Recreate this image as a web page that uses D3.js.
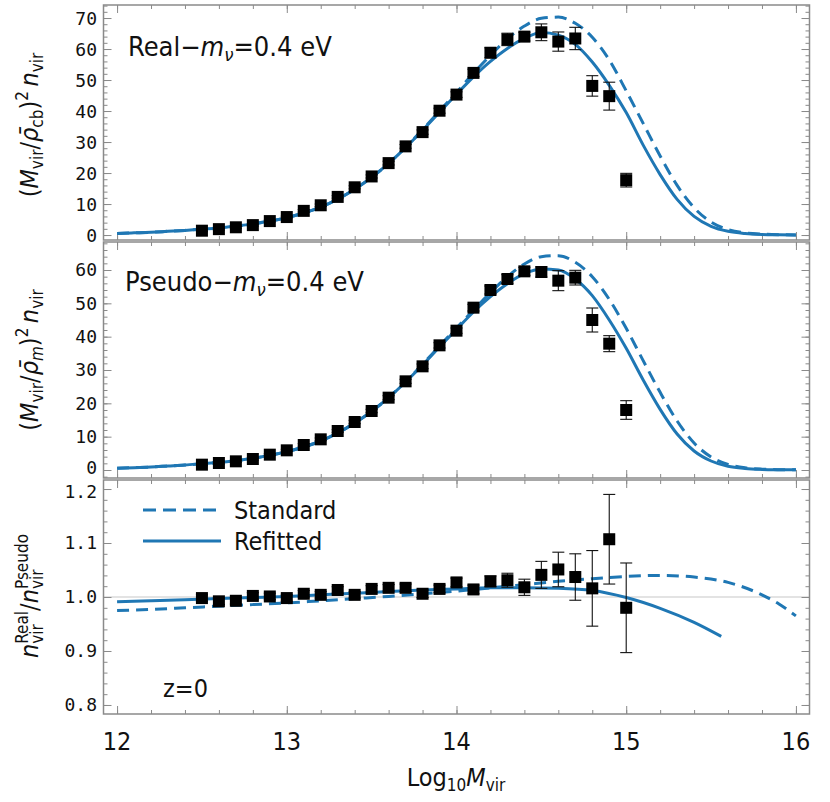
<!DOCTYPE html>
<html><head><meta charset="utf-8">
<script src="https://cdn.jsdelivr.net/npm/d3@7"></script>
<style>
body{margin:0;background:#fff}
svg{display:block}
.lbl{font-family:"Liberation Sans Narrow","DejaVu Sans Condensed","Roboto Condensed",sans-serif;fill:#111}
.ytk{font-family:"DejaVu Sans Mono","Liberation Mono",monospace;fill:#111}
</style>
</head><body>
<svg id="chart" width="830" height="802"></svg>
<script>
// ---------------- data ----------------
const massBins = [12.5,12.6,12.7,12.8,12.9,13.0,13.1,13.2,13.3,13.4,13.5,13.6,13.7,13.8,13.9,14.0,14.1,14.2,14.3,14.4,14.5,14.6,14.7,14.8,14.9,15.0];
const realValues = [1.4,1.9,2.5,3.2,4.5,5.8,7.8,9.6,12.3,15.4,18.9,23.2,28.6,33.2,40.1,45.3,52.3,58.8,63.1,64.0,65.4,62.4,63.4,48.1,44.8,17.7];
const realErrors = [0.3,0.3,0.3,0.3,0.3,0.3,0.4,0.4,0.4,0.5,0.5,0.6,0.6,0.7,0.8,0.9,1.2,1.6,2.0,1.4,2.7,3.1,3.6,3.3,4.5,2.2];
const pseudoValues = [1.6,2.1,2.6,3.3,4.6,5.9,7.5,9.2,11.7,14.4,17.7,21.7,26.6,31.1,37.4,41.8,48.7,54.0,57.3,59.6,59.4,56.8,57.7,45.0,37.9,18.0];
const pseudoErrors = [0.3,0.3,0.3,0.3,0.3,0.3,0.4,0.4,0.4,0.5,0.5,0.6,0.6,0.7,0.8,0.8,1.0,1.2,1.3,1.2,1.5,3.0,2.2,3.6,2.4,2.8];
const ratioValues = [0.998,0.992,0.993,1.002,1.001,0.998,1.006,1.004,1.013,1.004,1.015,1.017,1.017,1.006,1.015,1.027,1.014,1.029,1.031,1.018,1.041,1.051,1.037,1.016,1.107,0.980];
const ratioErrors = [0.006,0.006,0.006,0.006,0.006,0.006,0.006,0.006,0.006,0.006,0.006,0.006,0.007,0.007,0.007,0.008,0.008,0.010,0.013,0.015,0.025,0.032,0.043,0.070,0.083,0.083];

const curveMass = [12.0,12.1,12.2,12.3,12.4,12.5,12.6,12.7,12.8,12.9,13.0,13.1,13.2,13.3,13.4,13.5,13.6,13.7,13.8,13.9,14.0,14.1,14.2,14.3,14.4,14.5,14.6,14.7,14.8,14.9,15.0,15.1,15.2,15.3,15.4,15.5,15.6,15.7,15.8,15.9,16.0];
const realRefitted = [0.5,0.7,0.9,1.2,1.5,1.9,2.3,2.9,3.6,4.5,5.6,7.1,9.0,11.6,14.8,18.6,23.1,28.2,33.8,39.6,45.4,51.0,56.0,60.2,63.4,65.3,64.5,61.5,55.8,48.3,39.5,29.0,19.5,11.5,6.0,2.8,1.2,0.5,0.2,0.1,0.05];
const realStandard = [0.5,0.7,0.9,1.2,1.5,1.9,2.3,2.9,3.6,4.5,5.6,7.1,9.0,11.6,14.8,18.6,23.1,28.3,34.0,40.0,46.0,52.2,58.0,63.3,67.4,69.9,70.3,68.3,63.8,56.5,46.5,36.0,25.5,16.0,8.8,4.2,1.8,0.7,0.3,0.12,0.05];
const pseudoRefitted = [0.5,0.7,0.9,1.2,1.5,1.9,2.3,2.8,3.5,4.4,5.5,6.9,8.7,11.1,14.1,17.6,21.7,26.4,31.5,36.9,42.2,47.4,52.0,55.9,58.9,60.3,60.0,57.3,52.3,45.0,36.5,27.0,18.2,10.8,5.7,2.7,1.1,0.45,0.18,0.08,0.04];
const pseudoStandard = [0.5,0.7,0.9,1.2,1.5,1.9,2.3,2.8,3.5,4.4,5.5,6.9,8.7,11.1,14.1,17.6,21.7,26.5,31.7,37.2,42.6,48.0,53.2,58.0,61.8,64.0,64.3,62.3,58.0,51.2,42.5,32.8,23.3,14.7,8.1,3.9,1.7,0.65,0.26,0.1,0.04];

const ratioStdMass = [12.0,12.2,12.4,12.6,12.8,13.0,13.2,13.4,13.6,13.8,14.0,14.2,14.4,14.6,14.8,15.0,15.2,15.4,15.6,15.8,15.9,16.0];
const ratioStandard = [0.975,0.977,0.980,0.983,0.986,0.989,0.993,0.997,1.001,1.006,1.011,1.017,1.023,1.029,1.034,1.038,1.040,1.037,1.027,1.004,0.987,0.965];
const ratioFitMass = [12.0,12.2,12.4,12.6,12.8,13.0,13.2,13.4,13.6,13.8,14.0,14.2,14.4,14.6,14.8,15.0,15.2,15.4,15.56];
const ratioRefitted = [0.991,0.993,0.995,0.997,0.999,1.001,1.004,1.007,1.010,1.013,1.015,1.017,1.017,1.016,1.012,0.999,0.979,0.953,0.927];

const xTicks = [12,13,14,15,16];
const yTicks1 = [0,10,20,30,40,50,60,70];
const yTicks2 = [0,10,20,30,40,50,60];
const yTicks3 = [0.8,0.9,1.0,1.1,1.2];

// ---------------- drawing ----------------
const svg = d3.select("#chart");
const BLUE = "#1f77b4";
const FRAME = "#8a8a8a";
const X0 = 103.5, X1 = 809.5;
const x = d3.scaleLinear().domain([11.92, 16.08]).range([X0, X1]);

const panels = [
  {top:5, bottom:240, domain:[-1.6,74.2], ticks:yTicks1, minor:2, fmt:d3.format("d"), nudgeLow:0, nudgeHigh:0,
   pts:realValues, err:realErrors,
   curves:[{m:curveMass, v:realStandard, dash:true},{m:curveMass, v:realRefitted, dash:false}]},
  {top:242, bottom:478, domain:[-2.4,68.4], ticks:yTicks2, minor:2, fmt:d3.format("d"), nudgeLow:-2, nudgeHigh:0,
   pts:pseudoValues, err:pseudoErrors,
   curves:[{m:curveMass, v:pseudoStandard, dash:true},{m:curveMass, v:pseudoRefitted, dash:false}]},
  {top:480, bottom:714, domain:[0.7833,1.2167], ticks:yTicks3, minor:0.02, fmt:d3.format(".1f"), nudgeLow:0, nudgeHigh:2.5,
   pts:ratioValues, err:ratioErrors,
   curves:[{m:ratioStdMass, v:ratioStandard, dash:true},{m:ratioFitMass, v:ratioRefitted, dash:false}]}
];

const xMinor = d3.range(12, 16.001, 0.2).map(d => +d.toFixed(2));

panels.forEach((p, i) => {
  const y = d3.scaleLinear().domain(p.domain).range([p.bottom, p.top]);
  const g = svg.append("g");
  const clipId = "clip" + i;
  svg.append("clipPath").attr("id", clipId).append("rect")
    .attr("x", X0).attr("y", p.top).attr("width", X1 - X0).attr("height", p.bottom - p.top);

  if (i === 2) {
    g.append("line").attr("x1", X0).attr("x2", X1).attr("y1", y(1)).attr("y2", y(1))
      .attr("stroke", "#c8c8c8").attr("stroke-width", 1.2);
  }

  const yMinor = d3.range(Math.ceil(p.domain[0] / p.minor) * p.minor, p.domain[1], p.minor)
    .map(d => +d.toFixed(3));

  function styleAxis(a) {
    a.select(".domain").remove();
    a.selectAll(".tick line").attr("stroke", FRAME).attr("stroke-width", 1);
  }
  g.append("g").attr("transform", `translate(0,${p.bottom})`)
    .call(d3.axisBottom(x).tickValues(xTicks).tickSize(-8).tickFormat("")).call(styleAxis);
  g.append("g").attr("transform", `translate(0,${p.bottom})`)
    .call(d3.axisBottom(x).tickValues(xMinor).tickSize(-4).tickFormat("")).call(styleAxis);
  g.append("g").attr("transform", `translate(0,${p.top})`)
    .call(d3.axisTop(x).tickValues(xTicks).tickSize(-8).tickFormat("")).call(styleAxis);
  g.append("g").attr("transform", `translate(0,${p.top})`)
    .call(d3.axisTop(x).tickValues(xMinor).tickSize(-4).tickFormat("")).call(styleAxis);
  g.append("g").attr("transform", `translate(${X0},0)`)
    .call(d3.axisLeft(y).tickValues(p.ticks).tickSize(-8).tickFormat("")).call(styleAxis);
  g.append("g").attr("transform", `translate(${X0},0)`)
    .call(d3.axisLeft(y).tickValues(yMinor).tickSize(-4).tickFormat("")).call(styleAxis);
  g.append("g").attr("transform", `translate(${X1},0)`)
    .call(d3.axisRight(y).tickValues(p.ticks).tickSize(-8).tickFormat("")).call(styleAxis);
  g.append("g").attr("transform", `translate(${X1},0)`)
    .call(d3.axisRight(y).tickValues(yMinor).tickSize(-4).tickFormat("")).call(styleAxis);

  const last = p.ticks.length - 1;
  g.selectAll("text.ytk").data(p.ticks).join("text").attr("class", "ytk")
    .attr("x", 97)
    .attr("y", (d, k) => y(d) + (k === 0 ? p.nudgeLow : 0) + (k === last ? p.nudgeHigh : 0))
    .attr("dy", "0.36em")
    .attr("text-anchor", "end").attr("font-size", 18).text(p.fmt);

  const line = d3.line().curve(d3.curveMonotoneX).x(d => x(d[0])).y(d => y(d[1]));
  p.curves.forEach(c => {
    g.append("path").attr("clip-path", `url(#${clipId})`)
      .attr("d", line(c.m.map((m, k) => [m, c.v[k]])))
      .attr("fill", "none").attr("stroke", BLUE).attr("stroke-width", 3)
      .attr("stroke-dasharray", c.dash ? "12,7" : null);
  });

  const eb = g.append("g").attr("stroke", "#111").attr("stroke-width", 1.1);
  massBins.forEach((m, k) => {
    const cx = x(m), y1 = y(p.pts[k] + p.err[k]), y2 = y(p.pts[k] - p.err[k]);
    eb.append("line").attr("x1", cx).attr("x2", cx).attr("y1", y1).attr("y2", y2);
    eb.append("line").attr("x1", cx - 6).attr("x2", cx + 6).attr("y1", y1).attr("y2", y1);
    eb.append("line").attr("x1", cx - 6).attr("x2", cx + 6).attr("y1", y2).attr("y2", y2);
  });
  g.selectAll("rect.pt").data(massBins).join("rect").attr("class", "pt")
    .attr("x", d => x(d) - 6).attr("y", (d, k) => y(p.pts[k]) - 6)
    .attr("width", 12).attr("height", 12).attr("fill", "#000");

  g.append("rect").attr("x", X0).attr("y", p.top).attr("width", X1 - X0).attr("height", p.bottom - p.top)
    .attr("fill", "none").attr("stroke", FRAME).attr("stroke-width", 1.5);
});

svg.selectAll("text.xtk").data(xTicks).join("text").attr("class", "lbl xtk")
  .attr("x", d => x(d)).attr("y", 750).attr("text-anchor", "middle").attr("font-size", 25).text(d => d);

function rich(parent, parts, size) {
  parts.forEach(pt => {
    const ts = parent.append("tspan").text(pt.t);
    let fs = size;
    if (pt.sub || pt.sup) fs = size * 0.68;
    ts.attr("font-size", fs);
    if (pt.it) ts.attr("font-style", "italic");
    if (pt.dy) ts.attr("dy", pt.dy);
    if (pt.dx) ts.attr("dx", pt.dx);
  });
}

{
  const t = svg.append("text").attr("class", "lbl").attr("x", 456).attr("y", 786).attr("text-anchor", "middle").attr("font-size", 25);
  rich(t, [{t:"Log"},{t:"10", sub:true, dy:5},{t:"M", it:true, dy:-5},{t:"vir", sub:true, dy:5}], 25);
}

function yTitle(cy, parts) {
  const t = svg.append("text").attr("class", "lbl").attr("text-anchor", "middle").attr("font-size", 25)
    .attr("transform", `translate(38,${cy}) rotate(-90)`);
  rich(t, parts, 25);
  return t;
}
yTitle(125, [{t:"("},{t:"M", it:true},{t:"vir", sub:true, dy:5},{t:"/", dy:-5},{t:"ρ\u0304", it:true},
  {t:"cb", sub:true, dy:5},{t:")", dy:-5},{t:"2", sup:true, dy:-10},{t:"\u2009"},{t:"n", it:true, dy:10},{t:"vir", sub:true, dy:5}]);
yTitle(360, [{t:"("},{t:"M", it:true},{t:"vir", sub:true, dy:5},{t:"/", dy:-5},{t:"ρ\u0304", it:true},
  {t:"m", it:true, sub:true, dy:5},{t:")", dy:-5},{t:"2", sup:true, dy:-10},{t:"\u2009"},{t:"n", it:true, dy:10},{t:"vir", sub:true, dy:5}]);
{
  const t = svg.append("text").attr("class", "lbl").attr("text-anchor", "middle").attr("font-size", 25)
    .attr("transform", `translate(38,596) rotate(-90)`);
  t.append("tspan").text("n").attr("font-style", "italic");
  const s1 = t.append("tspan").text("vir").attr("font-size", 17).attr("dy", 5);
  const w1 = s1.node().getComputedTextLength();
  t.append("tspan").text("Real").attr("font-size", 17).attr("dy", -15).attr("dx", -w1);
  t.append("tspan").text("/").attr("dy", 10);
  t.append("tspan").text("n").attr("font-style", "italic");
  const s2 = t.append("tspan").text("vir").attr("font-size", 17).attr("dy", 5);
  const w2 = s2.node().getComputedTextLength();
  t.append("tspan").text("Pseudo").attr("font-size", 17).attr("dy", -15).attr("dx", -w2);
}

{
  const t1 = svg.append("text").attr("class", "lbl").attr("x", 128).attr("y", 56).attr("font-size", 27);
  rich(t1, [{t:"Real\u2212"},{t:"m", it:true},{t:"ν", it:true, sub:true, dy:5},{t:"=0.4 eV", dy:-5}], 27);
  const t2 = svg.append("text").attr("class", "lbl").attr("x", 125).attr("y", 291).attr("font-size", 27);
  rich(t2, [{t:"Pseudo\u2212"},{t:"m", it:true},{t:"ν", it:true, sub:true, dy:5},{t:"=0.4 eV", dy:-5}], 27);
  svg.append("text").attr("class", "lbl").attr("x", 163).attr("y", 697).attr("font-size", 25).text("z=0");
}

const legendItems = [{name:"Standard", dash:true, y:510},{name:"Refitted", dash:false, y:541}];
legendItems.forEach(it => {
  svg.append("line").attr("x1", 143).attr("x2", 221).attr("y1", it.y).attr("y2", it.y)
    .attr("stroke", BLUE).attr("stroke-width", 3).attr("stroke-dasharray", it.dash ? "13,7" : null);
  svg.append("text").attr("class", "lbl").attr("x", 234).attr("y", it.y + 9).attr("font-size", 25).text(it.name);
});
</script>
</body></html>
